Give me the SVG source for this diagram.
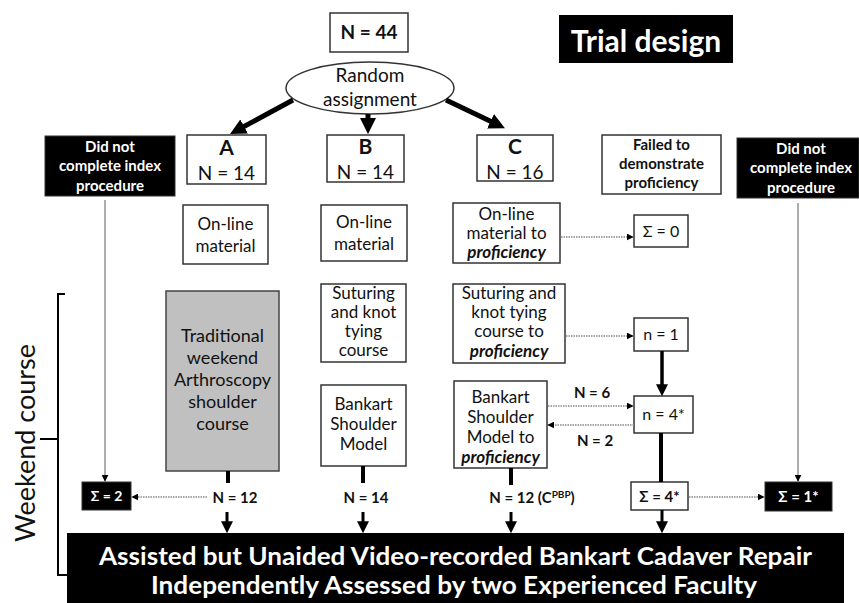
<svg xmlns="http://www.w3.org/2000/svg" width="859" height="603" viewBox="0 0 859 603">
<style>
text{font-family:Lato,"Open Sans","Liberation Sans",sans-serif;fill:#111}
.box{fill:#fff;stroke:#333;stroke-width:1.5}
.blk{fill:#000;stroke:#333;stroke-width:1}
.gray{fill:#c0c0c0;stroke:#444;stroke-width:1.5}
.t{font-size:17px;text-anchor:middle}
.b{font-weight:bold}
.w{fill:#fff}
.c{text-anchor:middle}
.thick{stroke:#000;fill:none}
.dot{stroke:#888;stroke-width:1.3;stroke-dasharray:1.5 1;fill:none}
.thin{stroke:#777;stroke-width:1.2;fill:none}
</style>
<defs>
<marker id="hb" viewBox="0 0 10 10" refX="4" refY="5" markerWidth="16" markerHeight="16" markerUnits="userSpaceOnUse" orient="auto"><path d="M0,0L10,5L0,10z" fill="#000"/></marker>
<marker id="hm" viewBox="0 0 10 10" refX="4" refY="5" markerWidth="12" markerHeight="12" markerUnits="userSpaceOnUse" orient="auto"><path d="M0,0L10,5L0,10z" fill="#000"/></marker>
<marker id="hs" viewBox="0 0 10 10" refX="9" refY="5" markerWidth="7" markerHeight="7" markerUnits="userSpaceOnUse" orient="auto"><path d="M0,0L10,5L0,10z" fill="#000"/></marker>
</defs>

<g id="title">
<rect x="559" y="15" width="174" height="48" fill="#000"/>
<text x="646" y="52" class="c b w" font-size="30">Trial design</text>
</g>

<g id="n44">
<rect class="box" x="330" y="13" width="78" height="39"/>
<text x="369" y="39" class="c b" font-size="19">N = 44</text>
</g>

<g id="random">
<ellipse cx="370" cy="88" rx="84" ry="26" class="box"/>
<text x="370" y="82" class="c" font-size="19">Random</text>
<text x="370" y="106" class="c" font-size="19">assignment</text>
</g>

<g id="groupA">
<rect class="box" x="187" y="135" width="79" height="49"/>
<text x="226.5" y="155" class="c b" font-size="21">A</text>
<text x="226.5" y="180" class="c" font-size="19">N = 14</text>
</g>
<g id="groupB">
<rect class="box" x="327" y="135" width="77" height="47"/>
<text x="365.5" y="154" class="c b" font-size="21">B</text>
<text x="365.5" y="179" class="c" font-size="19">N = 14</text>
</g>
<g id="groupC">
<rect class="box" x="477" y="135" width="76" height="46"/>
<text x="515" y="154" class="c b" font-size="21">C</text>
<text x="515" y="179" class="c" font-size="19">N = 16</text>
</g>

<g id="dropLeft">
<rect class="blk" x="45" y="136" width="130" height="60"/>
<text x="110" y="152" class="c b w" font-size="15">Did not</text>
<text x="110" y="171" class="c b w" font-size="15">complete index</text>
<text x="110" y="191" class="c b w" font-size="15">procedure</text>
</g>

<g id="failed">
<rect class="box" x="602" y="135" width="119" height="59"/>
<text x="661.5" y="150" class="c b" font-size="15">Failed to</text>
<text x="661.5" y="169" class="c b" font-size="15">demonstrate</text>
<text x="661.5" y="188" class="c b" font-size="15">proficiency</text>
</g>

<g id="dropRight">
<rect class="blk" x="737" y="138" width="122" height="60"/>
<text x="801" y="154" class="c b w" font-size="15">Did not</text>
<text x="801" y="173" class="c b w" font-size="15">complete index</text>
<text x="801" y="193" class="c b w" font-size="15">procedure</text>
</g>

<g id="onlineA">
<rect class="box" x="183" y="205" width="85" height="59"/>
<text x="225.5" y="230" class="t">On-line</text>
<text x="225.5" y="252" class="t">material</text>
</g>
<g id="onlineB">
<rect class="box" x="321" y="205" width="86" height="56"/>
<text x="364" y="228" class="t">On-line</text>
<text x="364" y="250" class="t">material</text>
</g>
<g id="onlineC">
<rect class="box" x="453" y="203" width="107" height="60"/>
<text x="506.5" y="220" class="t">On-line</text>
<text x="506.5" y="239" class="t">material to</text>
<text x="506.5" y="258" class="t b" font-style="italic">proficiency</text>
</g>

<g id="sigma0">
<rect class="box" x="634" y="215" width="54" height="32"/>
<text x="661" y="237" class="c" font-size="16">Σ = 0</text>
</g>

<g id="traditional">
<rect class="gray" x="166" y="291" width="113" height="180"/>
<text x="222.5" y="342" class="c" font-size="18">Traditional</text>
<text x="222.5" y="364" class="c" font-size="18">weekend</text>
<text x="222.5" y="386" class="c" font-size="18">Arthroscopy</text>
<text x="222.5" y="408" class="c" font-size="18">shoulder</text>
<text x="222.5" y="430" class="c" font-size="18">course</text>
</g>

<g id="suturingB">
<rect class="box" x="321" y="284" width="85" height="78"/>
<text x="363.5" y="299" class="t">Suturing</text>
<text x="363.5" y="318" class="t">and knot</text>
<text x="363.5" y="337" class="t">tying</text>
<text x="363.5" y="356" class="t">course</text>
</g>
<g id="suturingC">
<rect class="box" x="453" y="284" width="112" height="79"/>
<text x="509" y="299" class="t">Suturing and</text>
<text x="509" y="318" class="t">knot tying</text>
<text x="509" y="337" class="t">course to</text>
<text x="509" y="357" class="t b" font-style="italic">proficiency</text>
</g>

<g id="n1">
<rect class="box" x="634" y="318" width="54" height="33"/>
<text x="661" y="340" class="c" font-size="16">n = 1</text>
</g>

<g id="bankartB">
<rect class="box" x="321" y="385" width="85" height="81"/>
<text x="363.5" y="410" class="t">Bankart</text>
<text x="363.5" y="430" class="t">Shoulder</text>
<text x="363.5" y="450" class="t">Model</text>
</g>
<g id="bankartC">
<rect class="box" x="454" y="381" width="93" height="87"/>
<text x="500.5" y="403" class="t">Bankart</text>
<text x="500.5" y="423" class="t">Shoulder</text>
<text x="500.5" y="443" class="t">Model to</text>
<text x="500.5" y="463" class="t b" font-style="italic">proficiency</text>
</g>

<g id="n4">
<rect class="box" x="634" y="396" width="59" height="37"/>
<text x="663.5" y="420" class="c" font-size="16">n = 4*</text>
</g>

<g id="sigma2">
<rect class="blk" x="82" y="482" width="49" height="28"/>
<text x="106.5" y="501" class="c b w" font-size="14">Σ = 2</text>
</g>
<g id="sigma4">
<rect class="box" x="631" y="482" width="57" height="28"/>
<text x="659.5" y="502" class="c b" font-size="15">Σ = 4*</text>
</g>
<g id="sigma1">
<rect class="blk" x="765" y="482" width="67" height="29"/>
<text x="798.5" y="502" class="c b w" font-size="15">Σ = 1*</text>
</g>

<g id="labels">
<text x="235" y="503" class="c b" font-size="15">N = 12</text>
<text x="366" y="503" class="c b" font-size="15">N = 14</text>
<text x="532" y="503" class="c b" font-size="15">N = 12 (C<tspan font-size="10" dy="-5">PBP</tspan><tspan dy="5">)</tspan></text>
<text x="592" y="398" class="c b" font-size="15">N = 6</text>
<text x="595" y="446" class="c b" font-size="15">N = 2</text>
</g>

<g id="outcome">
<rect x="67" y="533" width="777" height="70" fill="#000"/>
<text x="455.5" y="565" class="c b w" font-size="25" textLength="713" lengthAdjust="spacingAndGlyphs">Assisted but Unaided Video-recorded Bankart Cadaver Repair</text>
<text x="454" y="594" class="c b w" font-size="25" textLength="606" lengthAdjust="spacingAndGlyphs">Independently Assessed by two Experienced Faculty</text>
</g>

<g id="weekend">
<path d="M65,294H58V575H67M40,439H58" fill="none" stroke="#000" stroke-width="2"/>
<text transform="translate(35,443) rotate(-90)" class="c" font-size="27">Weekend course</text>
</g>

<g id="connectors">
<line class="thick" stroke-width="5" x1="293" y1="100" x2="238.5" y2="129.5" marker-end="url(#hb)"/>
<line class="thick" stroke-width="5" x1="368" y1="114" x2="368" y2="124.5" marker-end="url(#hb)"/>
<line class="thick" stroke-width="5" x1="446" y1="100" x2="496.3" y2="124" marker-end="url(#hb)"/>

<line class="thin" x1="105" y1="200" x2="105" y2="481" marker-end="url(#hs)"/>
<line class="thin" x1="798" y1="203" x2="798" y2="481" marker-end="url(#hs)"/>

<line class="dot" x1="561" y1="237" x2="633" y2="237" marker-end="url(#hs)"/>
<line class="dot" x1="566" y1="336" x2="633" y2="336" marker-end="url(#hs)"/>
<line class="dot" x1="548" y1="406" x2="633" y2="406" marker-end="url(#hs)"/>
<line class="dot" x1="634" y1="425" x2="548" y2="425" marker-end="url(#hs)"/>
<line class="dot" x1="207" y1="497" x2="132" y2="497" marker-end="url(#hs)"/>
<line class="dot" x1="689" y1="497" x2="764" y2="497" marker-end="url(#hs)"/>

<line class="thick" stroke-width="3.5" x1="662" y1="351" x2="662" y2="389" marker-end="url(#hm)"/>
<line class="thick" stroke-width="4" x1="661" y1="433" x2="661" y2="482"/>

<line class="thick" stroke-width="4" x1="228" y1="471" x2="228" y2="483"/>
<line class="thick" stroke-width="4" x1="363" y1="466" x2="363" y2="483"/>
<line class="thick" stroke-width="4" x1="511" y1="468" x2="511" y2="485"/>

<line class="thick" stroke-width="3" x1="227" y1="512" x2="227" y2="526" marker-end="url(#hm)"/>
<line class="thick" stroke-width="3" x1="363" y1="512" x2="363" y2="526" marker-end="url(#hm)"/>
<line class="thick" stroke-width="3" x1="511" y1="512" x2="511" y2="526" marker-end="url(#hm)"/>
<line class="thick" stroke-width="3" x1="662" y1="510" x2="662" y2="526" marker-end="url(#hm)"/>
</g>
</svg>
